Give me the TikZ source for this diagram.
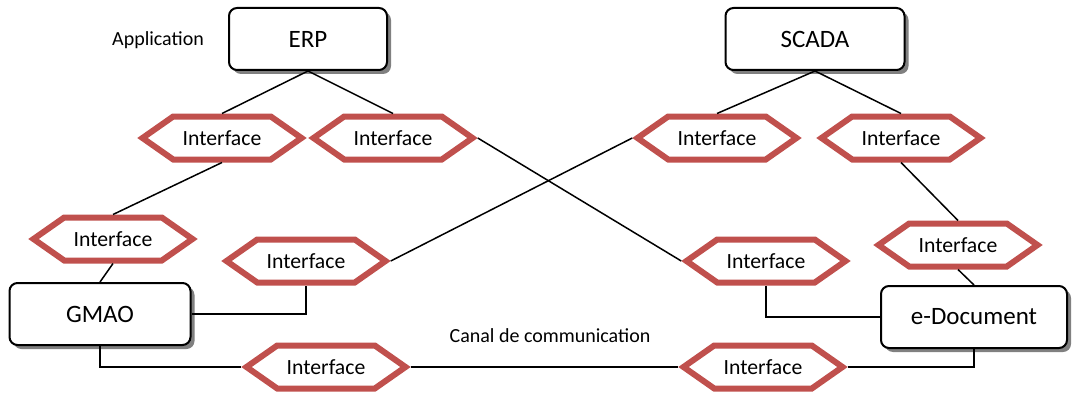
\documentclass[tikz,border=0pt]{standalone}
\usepackage{fontspec}
\setmainfont{Carlito}
\usepackage{tikz}
\usetikzlibrary{shapes.symbols,shadows}
\definecolor{ifacered}{RGB}{192,80,77}

\begin{document}
\begin{tikzpicture}[x=1pt,y=-1pt,
    appbox/.style={draw,line width=2pt,rounded corners=8pt,fill=white,minimum height=62pt,inner sep=0pt,
      font=\fontsize{25}{30}\selectfont,drop shadow={shadow xshift=4pt,shadow yshift=-4pt,fill=black!50,opacity=1}},
    iface/.style={signal,signal to=west and east,signal pointer angle=70,draw=ifacered,line width=6pt,fill=white,
      minimum width=159pt,minimum height=43pt,inner sep=0pt,font=\fontsize{21.7}{26}\selectfont},
    link/.style={line width=1.5pt},
    lbl/.style={font=\fontsize{20}{24}\selectfont}]
    \useasboundingbox (0,0) rectangle (1074,396);

    % Applications
    \node[appbox,minimum width=158pt] (erp) at (308,39) {ERP};
    \node[appbox,minimum width=179pt] (scada) at (815,39) {SCADA};
    \node[appbox,minimum width=181pt] (gmao) at (100,314) {GMAO};
    \node[appbox,minimum width=186pt] (edoc) at (974,317) {e-Document};
    \node[lbl] (app) at (158,40) {Application};
    \node[lbl] (canal) at (550,336) {Canal de communication};

    % Interfaces
    \node[iface] (ifa) at (222,138) {Interface};
    \node[iface] (ifb) at (393,138) {Interface};
    \node[iface] (ifc) at (717,138) {Interface};
    \node[iface] (ifd) at (901,138) {Interface};
    \node[iface] (ife) at (113,239) {Interface};
    \node[iface] (iff) at (306,261) {Interface};
    \node[iface] (ifg) at (766,261) {Interface};
    \node[iface] (ifh) at (958,245) {Interface};
    \node[iface] (ifi) at (326,367) {Interface};
    \node[iface] (ifj) at (763,367) {Interface};

    % Links
    \draw[link] (erp.south) -- (ifa.north);
    \draw[link] (erp.south) -- (ifb.north);
    \draw[link] (scada.south) -- (ifc.north);
    \draw[link] (scada.south) -- (ifd.north);
    \draw[link] (ifa.south) -- (ife.north);
    \draw[link] (ife.south) -- (gmao.north);
    \draw[link] (ifb.east) -- (ifg.west);
    \draw[link] (ifc.west) -- (iff.east);
    \draw[link] (gmao.east) -| (iff.south);
    \draw[link] (ifg.south) |- (edoc.west);
    \draw[link] (ifd.south) -- (ifh.north);
    \draw[link] (ifh.south) -- (edoc.north);
    \draw[link] (gmao.south) |- (ifi.west);
    \draw[link] (ifi.east) -- (ifj.west);
    \draw[link] (ifj.east) -| (edoc.south);
\end{tikzpicture}
\end{document}
